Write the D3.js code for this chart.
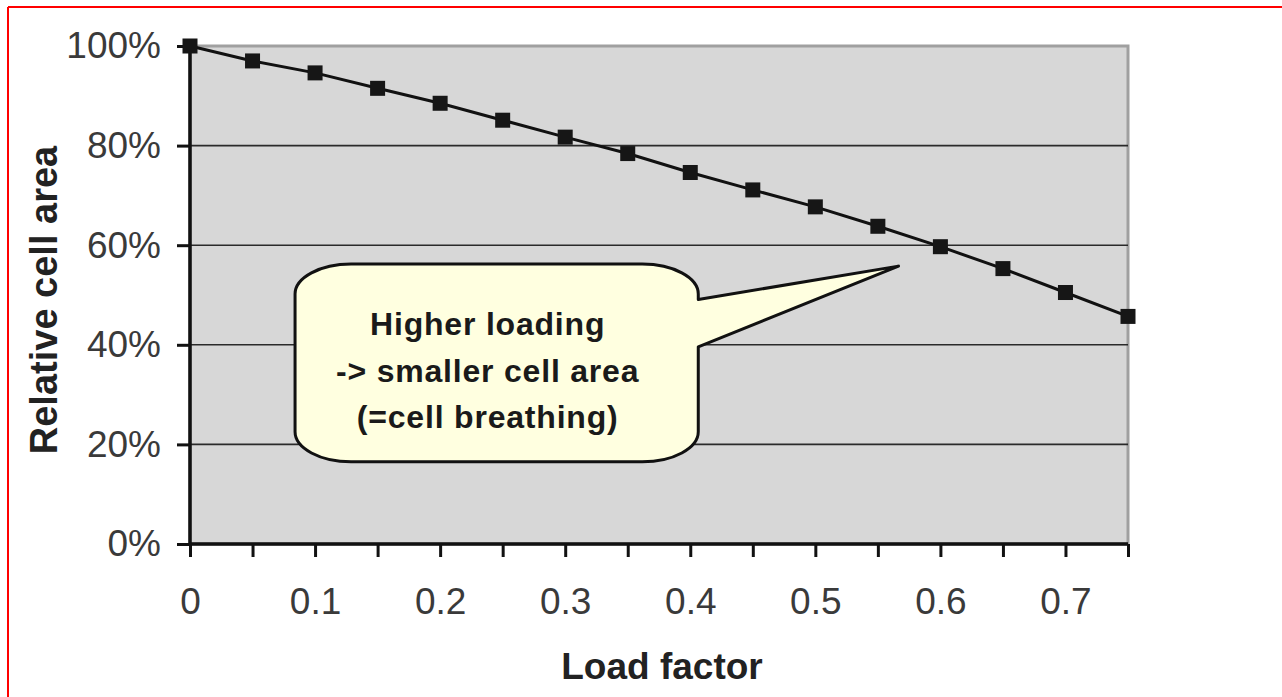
<!DOCTYPE html>
<html>
<head>
<meta charset="utf-8">
<script src="https://cdn.jsdelivr.net/npm/d3@7"></script>
<style>
  body { margin: 0; background: #fff; }
  svg { display: block; font-family: "Liberation Sans", Arial, sans-serif; }
</style>
</head>
<body>
<div class="chart"></div>
<script>
// values
const loadFactor = [0, 0.05, 0.1, 0.15, 0.2, 0.25, 0.3, 0.35, 0.4, 0.45, 0.5, 0.55, 0.6, 0.65, 0.7, 0.75]
const cellArea   = [100, 97, 94.6, 91.5, 88.5, 85.1, 81.7, 78.4, 74.6, 71.1, 67.7, 63.8, 59.7, 55.3, 50.5, 45.7]
const xLabelTicks = [0, 0.1, 0.2, 0.3, 0.4, 0.5, 0.6, 0.7]
const xTickLabels = ["0", "0.1", "0.2", "0.3", "0.4", "0.5", "0.6", "0.7"]
const yTicks = [0, 20, 40, 60, 80, 100]
const yTickLabels = ["0%", "20%", "40%", "60%", "80%", "100%"]
const noteLines = ["Higher loading", "-> smaller cell area", "(=cell breathing)"]

var width = 1282, height = 697
var margin = {top: 46, right: 154, bottom: 153, left: 190}

var svg = d3.select(".chart")
  .append("svg")
    .attr("width", width)
    .attr("height", height)

// red frame lines (top + left, the rest is cropped)
svg.append("line").attr("x1", 8).attr("x2", width).attr("y1", 7).attr("y2", 7)
  .style("stroke", "#ff0000").style("stroke-width", 2)
svg.append("line").attr("x1", 8).attr("x2", 8).attr("y1", 7).attr("y2", height)
  .style("stroke", "#ff0000").style("stroke-width", 2)

var x = d3.scaleLinear().domain([0, 0.75]).range([margin.left, width - margin.right])
var y = d3.scaleLinear().domain([0, 100]).range([height - margin.bottom, margin.top])

// plot area
svg.append("rect")
  .attr("x", x(0)).attr("y", y(100))
  .attr("width", x(0.75) - x(0)).attr("height", y(0) - y(100))
  .style("fill", "#d7d7d7")
  .style("stroke", "#a0a0a0")
  .style("stroke-width", 3)

// gridlines
svg.selectAll(".grid")
  .data(yTicks.filter(d => d > 0 && d < 100))
  .enter()
  .append("line")
    .attr("x1", x(0)).attr("x2", x(0.75))
    .attr("y1", d => y(d)).attr("y2", d => y(d))
    .style("stroke", "#2a2a2a")
    .style("stroke-width", 1.6)

// axes
var xAxis = svg.append("g")
  .attr("transform", "translate(0," + y(0) + ")")
  .call(d3.axisBottom(x)
    .tickValues(loadFactor)
    .tickSize(13)
    .tickPadding(31)
    .tickFormat(d => {
      var i = xLabelTicks.findIndex(v => Math.abs(v - d) < 1e-9)
      return i < 0 ? "" : xTickLabels[i]
    }))

var yAxis = svg.append("g")
  .attr("transform", "translate(" + x(0) + ",0)")
  .call(d3.axisLeft(y)
    .tickValues(yTicks)
    .tickSize(13)
    .tickPadding(16)
    .tickFormat((d, i) => yTickLabels[i]))

for (const g of [xAxis, yAxis]) {
  g.select(".domain").style("stroke", "#111").style("stroke-width", 3.5)
  g.selectAll(".tick line").style("stroke", "#111").style("stroke-width", 3)
  g.selectAll(".tick text")
    .style("font-size", "37px")
    .style("fill", "#3a3a3a")
}
xAxis.select(".domain").attr("d", "M" + x(0) + ",0H" + x(0.75))
yAxis.select(".domain").attr("d", "M0," + y(0) + "V" + y(100))

// axis titles
svg.append("text")
  .attr("x", (x(0) + x(0.75)) / 2 + 3)
  .attr("y", 679)
  .attr("text-anchor", "middle")
  .style("font-size", "37px")
  .style("font-weight", "bold")
  .style("fill", "#222")
  .text("Load factor")

svg.append("text")
  .attr("transform", "translate(57," + 300 + ") rotate(-90)")
  .attr("text-anchor", "middle")
  .style("font-size", "38px")
  .style("font-weight", "bold")
  .style("fill", "#222")
  .text("Relative cell area")

// series
var line = d3.line()
  .x((d, i) => x(loadFactor[i]))
  .y(d => y(d))

svg.append("path")
  .datum(cellArea)
  .attr("d", line)
  .style("fill", "none")
  .style("stroke", "#111")
  .style("stroke-width", 3)

svg.selectAll(".pt")
  .data(cellArea)
  .enter()
  .append("rect")
    .attr("x", (d, i) => x(loadFactor[i]) - 7.5)
    .attr("y", d => y(d) - 7.5)
    .attr("width", 15)
    .attr("height", 15)
    .style("fill", "#161616")

// callout, placed in data units
var box = {x0: x(0.084), x1: x(0.4064), y0: y(56.2), y1: y(16.5)}
var tip = [x(0.5665), y(55.8)]
var rx = 56, ry = 30
var p = d3.path()
p.moveTo(box.x0 + rx, box.y0)
p.lineTo(box.x1 - rx, box.y0)
p.bezierCurveTo(box.x1 - rx * 0.45, box.y0, box.x1, box.y0 + ry * 0.45, box.x1, box.y0 + ry)
p.lineTo(box.x1, y(49.1))
p.lineTo(tip[0], tip[1])
p.lineTo(box.x1, y(39.6))
p.lineTo(box.x1, box.y1 - ry)
p.bezierCurveTo(box.x1, box.y1 - ry * 0.45, box.x1 - rx * 0.45, box.y1, box.x1 - rx, box.y1)
p.lineTo(box.x0 + rx, box.y1)
p.bezierCurveTo(box.x0 + rx * 0.45, box.y1, box.x0, box.y1 - ry * 0.45, box.x0, box.y1 - ry)
p.lineTo(box.x0, box.y0 + ry)
p.bezierCurveTo(box.x0, box.y0 + ry * 0.45, box.x0 + rx * 0.45, box.y0, box.x0 + rx, box.y0)
p.closePath()

svg.append("path")
  .attr("d", p.toString())
  .style("fill", "#ffffe0")
  .style("stroke", "#111")
  .style("stroke-width", 3)
  .style("stroke-linejoin", "round")

svg.append("g")
  .selectAll("text")
  .data(noteLines)
  .enter()
  .append("text")
    .attr("x", (box.x0 + box.x1) / 2 - 9)
    .attr("y", (d, i) => 335 + i * 46.5)
    .attr("text-anchor", "middle")
    .style("font-size", "32px")
    .style("font-weight", "bold")
    .style("letter-spacing", "0.8px")
    .style("fill", "#1a1a1a")
    .text(d => d)
</script>
</body>
</html>
